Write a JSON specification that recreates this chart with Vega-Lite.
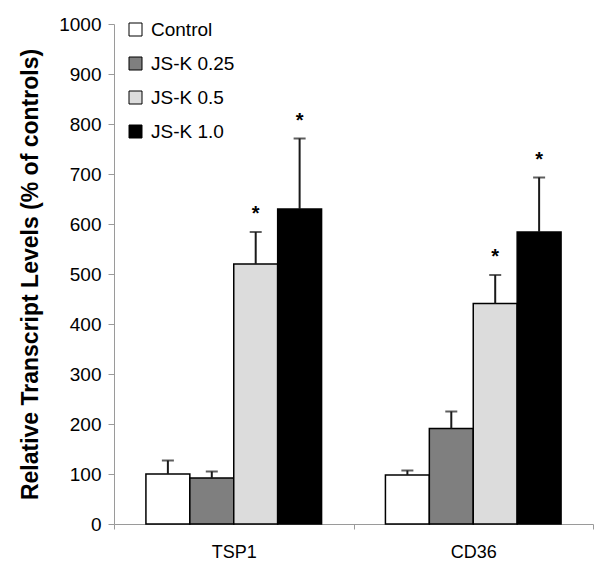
{
  "$schema": "https://vega.github.io/schema/vega-lite/v6.json",
  "autosize": "none",
  "width": 479,
  "height": 500,
  "padding": {"left": 114, "top": 24, "right": 10, "bottom": 46},
  "background": "white",
  "config": {
    "view": {"stroke": null},
    "font": "Liberation Sans",
    "axis": {"labelFont": "Liberation Sans", "titleFont": "Liberation Sans", "labelColor": "black", "titleColor": "black", "domainColor": "#9a9a9a", "tickColor": "#9a9a9a", "grid": false}
  },
  "data": {
    "values": [
      {"gene": "TSP1", "treatment": "Control", "value": 100, "upper": 127, "sig": false},
      {"gene": "TSP1", "treatment": "JS-K 0.25", "value": 92, "upper": 105, "sig": false},
      {"gene": "TSP1", "treatment": "JS-K 0.5", "value": 520, "upper": 584, "sig": true},
      {"gene": "TSP1", "treatment": "JS-K 1.0", "value": 630, "upper": 771, "sig": true},
      {"gene": "CD36", "treatment": "Control", "value": 98, "upper": 107, "sig": false},
      {"gene": "CD36", "treatment": "JS-K 0.25", "value": 191, "upper": 225, "sig": false},
      {"gene": "CD36", "treatment": "JS-K 0.5", "value": 441, "upper": 498, "sig": true},
      {"gene": "CD36", "treatment": "JS-K 1.0", "value": 584, "upper": 693, "sig": true}
    ]
  },
  "encoding": {
    "x": {
      "field": "gene", "type": "nominal", "sort": ["TSP1", "CD36"],
      "scale": {"paddingInner": 0, "paddingOuter": 0},
      "axis": {"title": null, "labelAngle": 0, "tickBand": "extent", "tickSize": 5, "labelFontSize": 18, "labelPadding": 14}
    },
    "xOffset": {
      "field": "treatment", "type": "nominal", "sort": ["Control", "JS-K 0.25", "JS-K 0.5", "JS-K 1.0"],
      "scale": {"paddingInner": 0, "paddingOuter": 0.727}
    }
  },
  "layer": [
    {
      "mark": {"type": "bar", "stroke": "black", "strokeWidth": 1.5},
      "encoding": {
        "y": {
          "field": "value", "type": "quantitative",
          "scale": {"domain": [0, 1000], "nice": false},
          "axis": {"values": [0, 100, 200, 300, 400, 500, 600, 700, 800, 900, 1000], "format": "d", "tickSize": 6, "labelPadding": 7, "labelFontSize": 19, "title": "Relative Transcript Levels (% of controls)", "titleFontSize": 23, "titleFontWeight": "bold", "titlePadding": 16}
        },
        "fill": {
          "field": "treatment", "type": "nominal", "sort": ["Control", "JS-K 0.25", "JS-K 0.5", "JS-K 1.0"],
          "scale": {"range": ["#ffffff", "#7f7f7f", "#dcdcdc", "#000000"]},
          "legend": {"title": null, "orient": "none", "legendX": 12, "legendY": -4, "symbolType": "square", "symbolSize": 169, "symbolStrokeColor": "black", "symbolStrokeWidth": 1, "labelFontSize": 19, "labelFont": "Liberation Sans", "labelColor": "black", "rowPadding": 14, "labelOffset": 6, "padding": 0}
        }
      }
    },
    {
      "mark": {"type": "rule", "color": "#1a1a1a", "strokeWidth": 2},
      "encoding": {
        "y": {"field": "value", "type": "quantitative"},
        "y2": {"field": "upper"}
      }
    },
    {
      "mark": {"type": "tick", "color": "#1a1a1a", "thickness": 2, "size": 12},
      "encoding": {
        "y": {"field": "upper", "type": "quantitative"}
      }
    },
    {
      "transform": [{"filter": "datum.sig"}],
      "mark": {"type": "text", "text": "*", "fontSize": 20, "fontWeight": "bold", "baseline": "alphabetic", "dy": -12, "color": "black"},
      "encoding": {
        "y": {"field": "upper", "type": "quantitative"}
      }
    }
  ]
}
